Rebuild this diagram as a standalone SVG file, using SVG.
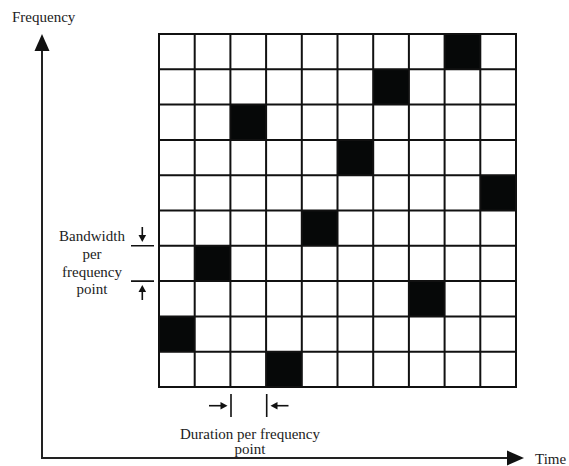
<svg xmlns="http://www.w3.org/2000/svg" width="569" height="466" viewBox="0 0 569 466">
<style>
text{font-family:"Liberation Serif","Times New Roman",serif;font-size:15px;fill:#222}
.g{stroke:#111;stroke-width:2;fill:none}
.b{fill:#060808}
.ax{stroke:#222;stroke-width:2;fill:none}
.sm{stroke:#111;stroke-width:1.6;fill:none}
.ah{fill:#111}
</style>
<rect width="569" height="466" fill="#fff"/>
<g id="grid">
<rect class="b" x="444.6" y="34" width="35.7" height="35.3"/>
<rect class="b" x="373.2" y="69.3" width="35.7" height="35.3"/>
<rect class="b" x="230.4" y="104.6" width="35.7" height="35.3"/>
<rect class="b" x="337.5" y="139.9" width="35.7" height="35.3"/>
<rect class="b" x="480.3" y="175.2" width="35.7" height="35.3"/>
<rect class="b" x="301.8" y="210.5" width="35.7" height="35.3"/>
<rect class="b" x="194.7" y="245.8" width="35.7" height="35.3"/>
<rect class="b" x="408.9" y="281.1" width="35.7" height="35.3"/>
<rect class="b" x="159" y="316.4" width="35.7" height="35.3"/>
<rect class="b" x="266.1" y="351.7" width="35.7" height="35.3"/>
<path class="g" d="M159,34H516V387H159Z M194.7,34V387 M230.4,34V387 M266.1,34V387 M301.8,34V387 M337.5,34V387 M373.2,34V387 M408.9,34V387 M444.6,34V387 M480.3,34V387 M159,69.3H516 M159,104.6H516 M159,139.9H516 M159,175.2H516 M159,210.5H516 M159,245.8H516 M159,281.1H516 M159,316.4H516 M159,351.7H516"/>
</g>
<g id="connectors">
<path class="ax" d="M42,48V458H510"/>
<polygon class="ah" points="42,34 34.5,51 49.5,51"/>
<polygon class="ah" points="524,458 507,450.5 507,465.5"/>
<path class="sm" d="M131,245.8H154 M131,281.1H154"/>
<path class="sm" d="M142.3,227V237"/>
<polygon class="ah" points="142.3,242 138.5,235 146.1,235"/>
<path class="sm" d="M142.3,300V290"/>
<polygon class="ah" points="142.3,285 138.5,292 146.1,292"/>
<path class="sm" d="M231,394V417 M266.7,394V417"/>
<path class="sm" d="M209,405.7H222"/>
<polygon class="ah" points="227.5,405.7 220.5,401.9 220.5,409.5"/>
<path class="sm" d="M288.5,405.7H276"/>
<polygon class="ah" points="270.5,405.7 277.5,401.9 277.5,409.5"/>
</g>
<g id="freq-label"><text x="12" y="22">Frequency</text></g>
<g id="time-label"><text x="535" y="464">Time</text></g>
<g id="bandwidth-label">
<text x="92" y="241" text-anchor="middle">Bandwidth</text>
<text x="92" y="259" text-anchor="middle">per</text>
<text x="92" y="276.5" text-anchor="middle">frequency</text>
<text x="92" y="294" text-anchor="middle">point</text>
</g>
<g id="duration-label">
<text x="250" y="438.5" text-anchor="middle">Duration per frequency</text>
<text x="250" y="454" text-anchor="middle">point</text>
</g>
</svg>
